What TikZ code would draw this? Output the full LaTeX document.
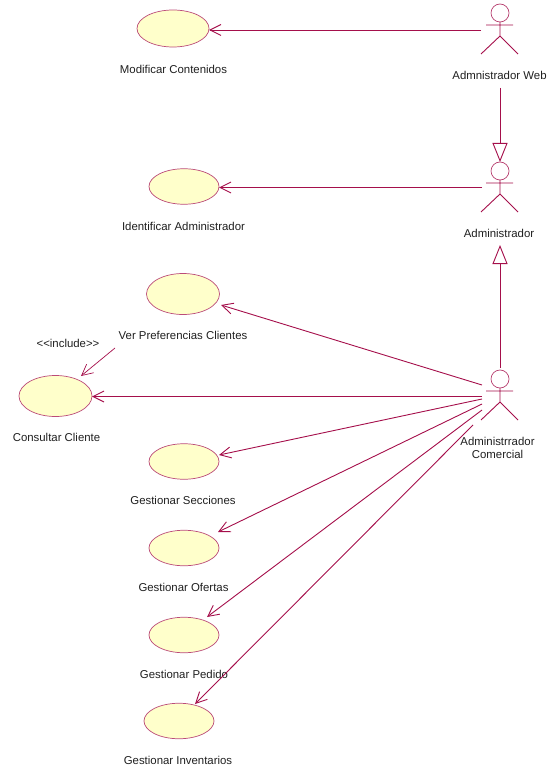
\documentclass[tikz,border=0pt]{standalone}
\usepackage{fontspec}
\setmainfont{Liberation Sans}
\usetikzlibrary{arrows.meta,shapes.geometric}
\definecolor{umlline}{HTML}{A50F4B}
\definecolor{umlfill}{HTML}{FFFFCB}
\tikzset{
  x=1pt,y=-1pt,
  usecase/.style={ellipse,draw=umlline!75,fill=umlfill,line width=.7pt,inner sep=0pt,outer sep=0pt},
  lbl/.style={font=\fontsize{11.4}{13}\selectfont,text=black!88,inner sep=0pt,align=center,yshift=-1pt},
  assoc/.style={draw=umlline,line width=.9pt,-{Straight Barb[length=11pt,width=11pt,line width=.9pt]}},
  dep/.style={draw=umlline,line width=.7pt,-{Straight Barb[length=11pt,width=11pt,line width=.7pt]}},
  gener/.style={draw=umlline,line width=.9pt,-{Triangle[open,length=19pt,width=15pt,fill=white,line width=.9pt]}},
  stick/.style={draw=umlline,line width=.9pt},
  actorhead/.style={circle,draw=umlline!80,fill=white,line width=.7pt,minimum size=18pt,inner sep=0pt,outer sep=0pt},
}
\newcommand{\actorfig}[3]{% name, x, head y
  \node[actorhead] (#1) at (#2,#3) {};
  \coordinate (#1n) at (#2,#3+9);
  \coordinate (#1h) at (#2,#3+23);
  \coordinate (#1sl) at (#2-14,#3+12);
  \coordinate (#1sr) at (#2+13,#3+12);
  \coordinate (#1ll) at (#2-19,#3+41);
  \coordinate (#1lr) at (#2+18,#3+41);
  \draw[stick] (#1n) -- (#1h) (#1sl) -- (#1sr) (#1ll) -- (#1h) -- (#1lr);
}
\begin{document}
\begin{tikzpicture}
\useasboundingbox (0,0) rectangle (548,767);
% use cases
\node[usecase,minimum width=72pt,minimum height=37pt] (uc1) at (173,28.5) {};
\node[usecase,minimum width=70pt,minimum height=35.5pt] (uc2) at (184,186.5) {};
\node[usecase,minimum width=73pt,minimum height=41pt] (uc3) at (183,294) {};
\node[usecase,minimum width=73pt,minimum height=41pt] (uc4) at (55.5,396) {};
\node[usecase,minimum width=70pt,minimum height=35.5pt] (uc5) at (184,461.5) {};
\node[usecase,minimum width=70pt,minimum height=35.5pt] (uc6) at (184,548) {};
\node[usecase,minimum width=70pt,minimum height=35.5pt] (uc7) at (184,635) {};
\node[usecase,minimum width=70pt,minimum height=35.5pt] (uc8) at (179,721) {};
% labels
\node[lbl] (t1) at (173.5,68) {Modificar Contenidos};
\node[lbl] (t2) at (183.5,225) {Identificar Administrador};
\node[lbl] (t3) at (183,334) {Ver Preferencias Clientes};
\node[lbl] (t4) at (56.5,436) {Consultar Cliente};
\node[lbl] (t5) at (183,499.5) {Gestionar Secciones};
\node[lbl] (t6) at (183.5,586) {Gestionar Ofertas};
\node[lbl] (t7) at (184,673) {Gestionar Pedido};
\node[lbl] (t8) at (178,759) {Gestionar Inventarios};
\node[lbl] (inc) at (68,342) {<{}<include>{}>};
\node[lbl] (tw) at (499.5,74) {Admnistrador Web};
\node[lbl] (ta) at (499,232) {Administrador};
\node[lbl] (tc) at (497.5,446.5) {Administrrador\\Comercial};
% actors
\actorfig{web}{500}{13}
\actorfig{adm}{500}{171}
\actorfig{com}{500}{379}
% connector ends
\coordinate (w1) at (481,30);
\coordinate (a1) at (482,187.5);
\coordinate (wg) at (500,88);
\coordinate (ag) at (500,162);
\coordinate (cg) at (500,368);
\coordinate (ag2) at (500,245);
\coordinate (c3) at (482,385);
\coordinate (c4) at (482,396.5);
\coordinate (c5) at (482,399);
\coordinate (c6) at (482,404);
\coordinate (c7) at (482,410);
\coordinate (c8) at (473,425);
\coordinate (d1) at (115,348);
\coordinate (u3) at (221,305);
\coordinate (u4) at (81,376);
\coordinate (u5) at (219,455);
\coordinate (u6) at (218,532);
\coordinate (u7) at (207,617);
\coordinate (u8) at (195,704);
% connectors
\draw[assoc] (w1) -- (uc1.east |- w1);
\draw[assoc] (a1) -- (uc2.east |- a1);
\draw[assoc] (c3) -- (u3);
\draw[assoc] (c4) -- (uc4.east |- c4);
\draw[assoc] (c5) -- (u5);
\draw[assoc] (c6) -- (u6);
\draw[assoc] (c7) -- (u7);
\draw[assoc] (c8) -- (u8);
\draw[dep] (d1) -- (u4);
\draw[gener] (wg) -- (ag);
\draw[gener] (cg) -- (ag2);
\end{tikzpicture}
\end{document}
